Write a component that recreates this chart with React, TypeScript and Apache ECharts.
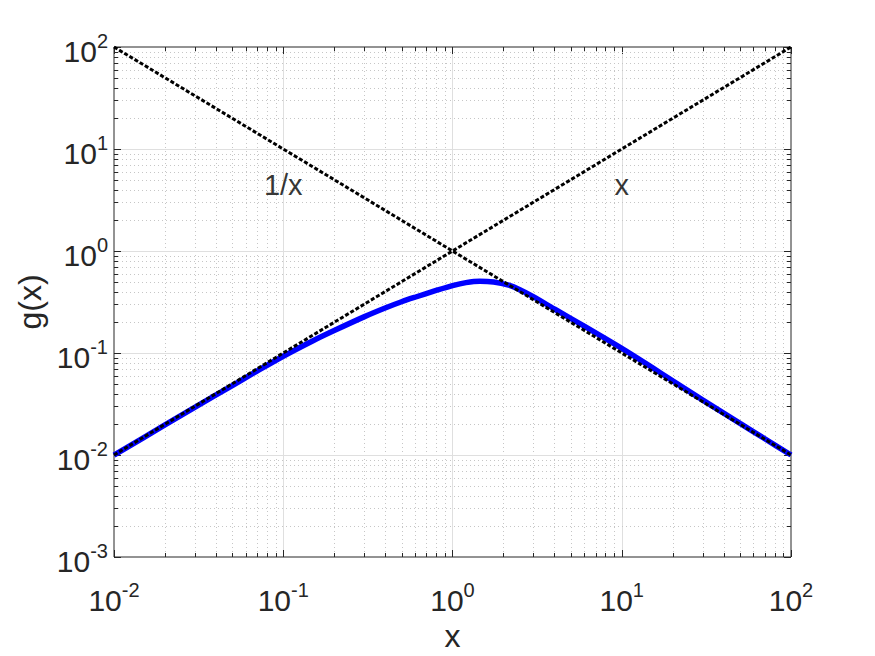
import React, { useEffect, useRef } from "react";
import * as echarts from "echarts";

// ---- data ----
const curveX = [0.01, 0.02, 0.03, 0.05, 0.07, 0.1, 0.15, 0.2, 0.3, 0.4, 0.5, 0.6, 0.8, 1.0, 1.2, 1.45, 1.75, 2.15, 2.5, 3, 4, 6, 10, 15, 20, 30, 50, 70, 100];
const curveG = [0.00995, 0.0197, 0.0293, 0.048, 0.0665, 0.093, 0.132, 0.166, 0.226, 0.276, 0.318, 0.352, 0.41, 0.458, 0.49, 0.506, 0.497, 0.462, 0.418, 0.357, 0.27, 0.1833, 0.111, 0.0727, 0.0533, 0.0347, 0.0204, 0.01443, 0.01];
const lineEndsX = [0.01, 100];
const identityY = [0.01, 100]; // y = x
const inverseY = [100, 0.01]; // y = 1/x
const annotationText = ["1/x", "x"];
const annotationX = [0.1, 10];
const annotationY = [4.4, 4.4];
const xTickExps = [-2, -1, 0, 1, 2];
const yTickExps = [-3, -2, -1, 0, 1, 2];

const FONT = "'Liberation Sans', Arial, Helvetica, sans-serif";
const TXT = "#262626";

function gridLineItems() {
  const items: number[][] = [];
  // vertical lines: [x, 1, kind=0, major]
  for (let i = 0; i < xTickExps.length; i++) {
    const base = Math.pow(10, xTickExps[i]);
    items.push([base, 1, 0, 1]);
    if (i < xTickExps.length - 1) {
      for (let m = 2; m <= 9; m++) items.push([m * base, 1, 0, 0]);
    }
  }
  // horizontal lines: [1, y, kind=1, major]
  for (let i = 0; i < yTickExps.length; i++) {
    const base = Math.pow(10, yTickExps[i]);
    items.push([1, base, 1, 1]);
    if (i < yTickExps.length - 1) {
      for (let m = 2; m <= 9; m++) items.push([1, m * base, 1, 0]);
    }
  }
  return items;
}

export default function App() {
  const ref = useRef<HTMLDivElement>(null);
  useEffect(() => {
    if (!ref.current) return;
    const chart = echarts.init(ref.current, null, { renderer: "svg" });

    const labelFmt = (v: number) => {
      const e = Math.round(Math.log10(v));
      return `{b|10}{s|${e}}`;
    };
    const rich = {
      b: { fontSize: 30, lineHeight: 40, fontFamily: FONT, color: TXT },
      s: { fontSize: 20, lineHeight: 14, verticalAlign: "top", fontFamily: FONT, color: TXT },
    };

    const option: any = {
      animation: false,
      backgroundColor: "#ffffff",
      grid: {
        left: 114,
        right: 84,
        top: 47,
        bottom: 99,
        show: true,
        borderColor: TXT,
        borderWidth: 1,
        backgroundColor: "#ffffff",
        outerBoundsMode: "none",
      },
      xAxis: {
        type: "log",
        logBase: 10,
        min: 0.01,
        max: 100,
        name: "x",
        nameLocation: "middle",
        nameGap: 59,
        nameTextStyle: { fontSize: 32, fontFamily: FONT, color: TXT },
        axisLine: { show: false },
        axisTick: { show: false },
        splitLine: { show: false },
        axisLabel: { formatter: labelFmt, rich, margin: 23, color: TXT },
      },
      yAxis: {
        type: "log",
        logBase: 10,
        min: 0.001,
        max: 100,
        name: "g(x)",
        nameLocation: "middle",
        nameRotate: 90,
        nameGap: 65,
        nameTextStyle: { fontSize: 32, fontFamily: FONT, color: TXT },
        axisLine: { show: false },
        axisTick: { show: false },
        splitLine: { show: false },
        axisLabel: { formatter: labelFmt, rich, margin: 6, padding: [8, 0, 0, 0], color: TXT },
      },
      series: [
        {
          type: "custom",
          silent: true,
          z: 1,
          coordinateSystem: "cartesian2d",
          data: gridLineItems(),
          renderItem: (params: any, api: any) => {
            const cs = params.coordSys;
            const kind = api.value(2);
            const major = api.value(3) === 1;
            const tickLen = major ? 7 : 4;
            const gridStyle = major
              ? { stroke: "#dfdfdf", lineWidth: 1 }
              : { stroke: "#c6c6c6", lineWidth: 1, lineDash: [1, 3] };
            const tickStyle = { stroke: TXT, lineWidth: 1 };
            const children: any[] = [];
            const p = api.coord([api.value(0), api.value(1)]);
            if (kind === 0) {
              const x = Math.round(p[0]) + 0.5;
              const y0 = cs.y;
              const y1 = cs.y + cs.height;
              if (Math.abs(x - cs.x) > 2 && Math.abs(x - (cs.x + cs.width)) > 2) {
                children.push({ type: "line", shape: { x1: x, y1: y0, x2: x, y2: y1 }, style: gridStyle });
              }
              children.push({ type: "line", shape: { x1: x, y1: y1, x2: x, y2: y1 - tickLen }, style: tickStyle });
              children.push({ type: "line", shape: { x1: x, y1: y0, x2: x, y2: y0 + tickLen }, style: tickStyle });
            } else {
              const y = Math.round(p[1]) + 0.5;
              const x0 = cs.x;
              const x1 = cs.x + cs.width;
              if (Math.abs(y - cs.y) > 2 && Math.abs(y - (cs.y + cs.height)) > 2) {
                children.push({ type: "line", shape: { x1: x0, y1: y, x2: x1, y2: y }, style: gridStyle });
              }
              children.push({ type: "line", shape: { x1: x0, y1: y, x2: x0 + tickLen, y2: y }, style: tickStyle });
              children.push({ type: "line", shape: { x1: x1, y1: y, x2: x1 - tickLen, y2: y }, style: tickStyle });
            }
            return { type: "group", children };
          },
        },
        {
          name: "g(x)",
          type: "line",
          z: 3,
          data: curveX.map((x, i) => [x, curveG[i]]),
          smooth: 0.3,
          showSymbol: false,
          lineStyle: { color: "#0000ff", width: 5.5 },
        },
        {
          name: "x",
          type: "line",
          z: 4,
          data: lineEndsX.map((x, i) => [x, identityY[i]]),
          showSymbol: false,
          lineStyle: { color: "#000000", width: 3, type: [4, 2] },
        },
        {
          name: "1/x",
          type: "line",
          z: 4,
          data: lineEndsX.map((x, i) => [x, inverseY[i]]),
          showSymbol: false,
          lineStyle: { color: "#000000", width: 3, type: [4, 2] },
        },
        {
          type: "scatter",
          z: 5,
          silent: true,
          symbolSize: 0,
          data: annotationX.map((x, i) => ({ value: [x, annotationY[i]], name: annotationText[i] })),
          label: {
            show: true,
            position: "inside",
            formatter: (p: any) => p.name,
            fontSize: 29,
            fontFamily: FONT,
            color: "#000000",
          },
        },
      ],
    };
    chart.setOption(option);
    return () => chart.dispose();
  }, []);

  return (
    <div
      ref={ref}
      style={{ position: "fixed", left: 0, top: 0, width: 875, height: 656, background: "#fff" }}
    />
  );
}
